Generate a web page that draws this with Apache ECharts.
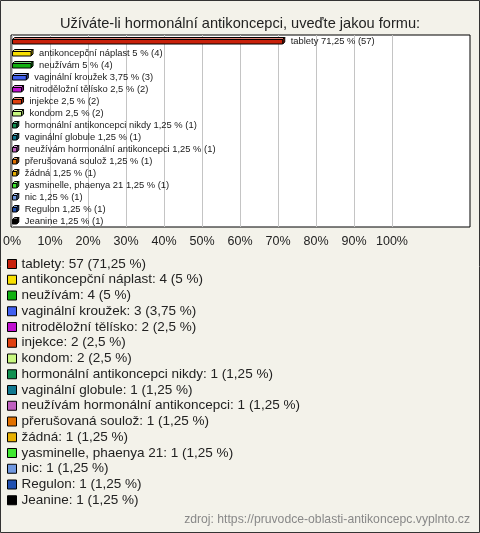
<!DOCTYPE html>
<html><head><meta charset="utf-8">
<script src="https://cdn.jsdelivr.net/npm/echarts@6/dist/echarts.min.js"></script>
<style>html,body{margin:0;padding:0;background:#f3f2ea}#c{width:480px;height:533px}</style>
</head><body><div id="c"></div>
<script>
const title = 'Užíváte-li hormonální antikoncepci, uveďte jakou formu:';
const categories = ['tablety','antikoncepční náplast','neužívám','vaginální kroužek','nitroděložní tělísko','injekce','kondom','hormonální antikoncepci nikdy','vaginální globule','neužívám hormonální antikoncepci','přerušovaná soulož','žádná','yasminelle, phaenya 21','nic','Regulon','Jeanine'];
const counts = [57,4,4,3,2,2,2,1,1,1,1,1,1,1,1,1];
const percents = [71.25,5,5,3.75,2.5,2.5,2.5,1.25,1.25,1.25,1.25,1.25,1.25,1.25,1.25,1.25];
const colors = ['#c8200a','#f8e000','#10b010','#4060f0','#c010d0','#e04010','#c8f880','#109050','#107890','#c060c0','#e07000','#e8b000','#40e830','#7098e0','#2050b0','#000000'];
const xTicks = [0,10,20,30,40,50,60,70,80,90,100];
const source = 'zdroj: https://pruvodce-oblasti-antikoncepc.vyplnto.cz';

const fmt = v => String(v).replace('.', ',');
const chart = echarts.init(document.getElementById('c'), null, {renderer:'canvas'});

function shade(hex, f){
  const n = parseInt(hex.slice(1),16);
  let r=(n>>16)&255,g=(n>>8)&255,b=n&255;
  if(f>0){r=r+(255-r)*f;g=g+(255-g)*f;b=b+(255-b)*f;}else{r=r*(1+f);g=g*(1+f);b=b*(1+f);}
  return 'rgb('+Math.round(r)+','+Math.round(g)+','+Math.round(b)+')';
}

const series = categories.map((name,i)=>({
  name: name,
  type: 'custom',
  xAxisIndex: 1, yAxisIndex: 1,
  clip: false,
  itemStyle: {color: colors[i]},
  data: [[percents[i], i]],
  renderItem: function(params, api){
    const p0 = api.coord([0, api.value(1)]);
    const p1 = api.coord([api.value(0), api.value(1)]);
    const d = 2;
    const yTop = p0[1]-1.5, yBot = p0[1]+3;
    const x0 = p0[0]+0.5, x1 = p1[0];
    const c = colors[i];
    return {type:'group', children:[
      {type:'polygon', shape:{points:[[x0,yTop],[x0+d,yTop-d],[x1+d,yTop-d],[x1,yTop]]}, style:{fill:shade(c,0.45), stroke:'#000', lineWidth:1}},
      {type:'polygon', shape:{points:[[x1,yTop],[x1+d,yTop-d],[x1+d,yBot-d],[x1,yBot]]}, style:{fill:shade(c,-0.3), stroke:'#000', lineWidth:1}},
      {type:'rect', shape:{x:x0, y:yTop, width:x1-x0, height:yBot-yTop}, style:{fill:c, stroke:'#000', lineWidth:1}},
      {type:'text', x:x1+d+6, y:p0[1], style:{text: name+' '+fmt(percents[i])+' % ('+counts[i]+')', fill:'#1a1a1a', font:'9.4px "Liberation Sans", Arial, sans-serif', verticalAlign:'middle', align:'left'}}
    ]};
  }
}));

chart.setOption({
  backgroundColor: '#f3f2ea',
  animation: false,
  title: {text: title, left: 'center', top: 11, textStyle:{fontFamily:'"Liberation Sans", Arial, sans-serif', fontSize:14.6, fontWeight:'normal', color:'#222'}},
  grid: [
    {left:11, right:10, top:35, height:192, show:true, backgroundColor:'#fff', borderColor:'#000', borderWidth:1},
    {left:11, width:381, top:35, height:192, show:false}
  ],
  xAxis: [
    {gridIndex:0, type:'value', min:0, max:1, show:false},
    {gridIndex:1, type:'value', min:0, max:100, interval:10,
     axisLine:{show:false}, axisTick:{show:false},
     splitLine:{show:true, lineStyle:{color:'#c4c4c4', width:1}},
     axisLabel:{formatter:'{value}%', color:'#222', fontSize:12.5, margin:8, fontFamily:'"Liberation Sans", Arial, sans-serif', showMinLabel:true, showMaxLabel:true}}
  ],
  yAxis: [
    {gridIndex:0, type:'value', min:0, max:1, show:false},
    {gridIndex:1, type:'category', data: categories.map((c,i)=>i), inverse:true, show:false}
  ],
  legend: {
    orient:'vertical', left:7, top:257, padding:0, itemWidth:9, itemHeight:9, itemGap:1.75,
    icon:'rect',
    itemStyle:{borderColor:'#000', borderWidth:1},
    textStyle:{fontFamily:'"Liberation Sans", Arial, sans-serif', fontSize:13.5, color:'#222'},
    data: categories,
    formatter: function(name){const i=categories.indexOf(name); return name+': '+counts[i]+' ('+fmt(percents[i])+' %)';}
  },
  graphic: [
    {type:'rect', shape:{x:0.5,y:0.5,width:479,height:532}, style:{fill:null, stroke:'#333', lineWidth:1}, silent:true},
    {type:'text', right:10, top:514, style:{text:source, fill:'#888', font:'12.2px "Liberation Sans", Arial, sans-serif'}}
  ],
  series: series
});
</script></body></html>
